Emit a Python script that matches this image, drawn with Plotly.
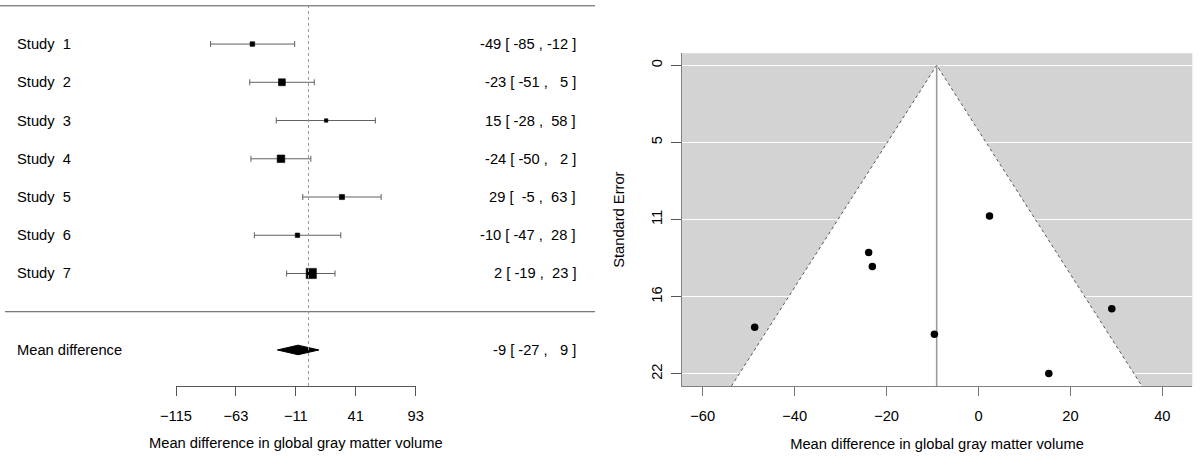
import plotly.graph_objects as go

# ---------------- data ----------------
studies = ["Study  1", "Study  2", "Study  3", "Study  4", "Study  5", "Study  6", "Study  7"]
estimates = [-48.7, -23.1, 15.3, -23.9, 29.0, -9.6, 2.4]
ci_lower = [-85, -51, -28, -50, -5, -47, -19]
ci_upper = [-12, 5, 58, 2, 63, 28, 23]
std_err = [18.6, 14.3, 21.9, 13.3, 17.3, 19.1, 10.7]

pooled_label = "Mean difference"
pooled_est = -9.1
pooled_lower = -27
pooled_upper = 9

forest_ticks = [-115, -63, -11, 41, 93]
funnel_xticks = [-60, -40, -20, 0, 20, 40]
funnel_yticks = [0, 5.48, 10.96, 16.44, 21.92]
funnel_yticktext = ["0", "5", "11", "16", "22"]
x_title = "Mean difference in global gray matter volume"
y_title = "Standard Error"

# ---------------- styling ----------------
FONT = "Liberation Sans, Arial, sans-serif"
FS = 14.7
NB = "\u00a0"
W, H = 1200, 465

n = len(studies)
rows = [n + 2 - i for i in range(n)]     # 9 .. 3
pooled_row = 1
top_row = n + 3

# marker sizes from inverse standard errors (metafor style)
inv = [1 / s for s in std_err]
mn, mx = min(inv), max(inv)
sizes = [3.4 + 6.8 * (w - mn) / (mx - mn) for w in inv]


def fmt(est, lo, hi):
    s = f"{round(est):d} [{lo:4d} ,{hi:4d} ]"
    return s.replace(" ", NB)


fig = go.Figure()

# forest: CIs (error bars) then squares on top
fig.add_trace(go.Scatter(
    x=estimates, y=rows, mode="markers",
    marker=dict(size=0.1, color="rgba(0,0,0,0)"),
    error_x=dict(type="data", symmetric=False,
                 array=[h - e for h, e in zip(ci_upper, estimates)],
                 arrayminus=[e - l for e, l in zip(estimates, ci_lower)],
                 color="#606060", thickness=1, width=3),
    xaxis="x", yaxis="y", showlegend=False, hoverinfo="skip"))
fig.add_trace(go.Scatter(
    x=estimates, y=rows, mode="markers",
    marker=dict(symbol="square", size=sizes, color="#000000", opacity=1,
                line=dict(width=0.6, color="#000000")),
    opacity=1,
    xaxis="x", yaxis="y", showlegend=False, hoverinfo="skip"))

# pooled diamond
dh = 0.125
fig.add_trace(go.Scatter(
    x=[pooled_lower, pooled_est, pooled_upper, pooled_est, pooled_lower],
    y=[pooled_row, pooled_row + dh, pooled_row, pooled_row - dh, pooled_row],
    mode="lines", fill="toself", fillcolor="black",
    line=dict(color="black", width=1),
    xaxis="x", yaxis="y", showlegend=False, hoverinfo="skip"))

# funnel plot
y_bottom = 22.78
y_top = -0.85
fig.add_trace(go.Scatter(
    x=[pooled_est - 1.96 * y_bottom, pooled_est, pooled_est + 1.96 * y_bottom],
    y=[y_bottom, 0, y_bottom], mode="lines", fill="toself", fillcolor="white",
    line=dict(color="#555555", width=1, dash="dot"),
    xaxis="x2", yaxis="y2", showlegend=False, hoverinfo="skip"))
fig.add_trace(go.Scatter(
    x=[pooled_est, pooled_est], y=[0, y_bottom], mode="lines",
    line=dict(color="#9a9a9a", width=1.6),
    xaxis="x2", yaxis="y2", showlegend=False, hoverinfo="skip"))
fig.add_trace(go.Scatter(
    x=estimates, y=std_err, mode="markers",
    marker=dict(symbol="circle", size=7.5, color="black"),
    xaxis="x2", yaxis="y2", showlegend=False, hoverinfo="skip"))

# ---------------- annotations ----------------
ann = []
for lab, r, e, lo, hi in zip(studies, rows, estimates, ci_lower, ci_upper):
    ann.append(dict(x=15 / W, xref="paper", y=r, yref="y", text=lab.replace(" ", NB),
                    xanchor="left", yanchor="middle", showarrow=False))
    ann.append(dict(x=578 / W, xref="paper", y=r, yref="y", text=fmt(e, lo, hi),
                    xanchor="right", yanchor="middle", showarrow=False))
ann.append(dict(x=15 / W, xref="paper", y=pooled_row, yref="y", text=pooled_label,
                xanchor="left", yanchor="middle", showarrow=False))
ann.append(dict(x=578 / W, xref="paper", y=pooled_row, yref="y",
                text=fmt(pooled_est, pooled_lower, pooled_upper),
                xanchor="right", yanchor="middle", showarrow=False))

y_low = 0.0576
shapes = [
    dict(type="line", xref="paper", yref="y", x0=0, x1=595 / W, y0=top_row, y1=top_row,
         line=dict(color="#555555", width=1)),
    dict(type="line", xref="paper", yref="y", x0=5 / W, x1=595 / W, y0=2, y1=2,
         line=dict(color="#555555", width=1)),
    dict(type="line", xref="x", yref="y", x0=0, x1=0, y0=y_low, y1=top_row,
         line=dict(color="#999999", width=1, dash="dot")),
    dict(type="rect", xref="x2 domain", yref="y2 domain", x0=0, x1=1, y0=0, y1=1,
         fillcolor="#d3d3d3", line=dict(width=0), layer="below"),
]

axis_font = dict(family=FONT, size=FS, color="black")

fig.update_layout(
    width=W, height=H,
    margin=dict(l=0, r=0, t=0, b=0, pad=0, autoexpand=False),
    paper_bgcolor="white", plot_bgcolor="white",
    font=axis_font,
    annotations=ann, shapes=shapes,
    xaxis=dict(domain=[176 / W, 415.7 / W], range=[forest_ticks[0], forest_ticks[-1]],
               tickvals=forest_ticks, ticks="outside", ticklen=9, tickcolor="#555555",
               showline=True, linecolor="#555555", linewidth=1,
               showgrid=False, zeroline=False, anchor="y", tickfont=axis_font,
               automargin=False, ticklabelstandoff=7,
               title=dict(text=x_title, font=axis_font, standoff=15)),
    yaxis=dict(domain=[1 - 386 / H, 1], range=[y_low, 10.152], visible=False,
               anchor="x", automargin=False),
    xaxis2=dict(domain=[681.7 / W, 1192.3 / W], range=[-64.58, 46.52],
                tickvals=funnel_xticks, ticks="outside", ticklen=9, tickcolor="#777777",
                showline=True, linecolor="#808080", linewidth=1.3,
                showgrid=False, zeroline=False, anchor="y2", tickfont=axis_font,
                automargin=False, ticklabelstandoff=7,
                title=dict(text=x_title, font=axis_font, standoff=15)),
    yaxis2=dict(domain=[1 - 386 / H, 1 - 53.3 / H], range=[y_bottom, y_top],
                tickvals=funnel_yticks, ticktext=funnel_yticktext, tickangle=-90,
                ticks="outside", ticklen=10, tickcolor="#555555",
                showline=True, linecolor="#808080", linewidth=1.3,
                showgrid=True, gridcolor="white", gridwidth=1,
                zeroline=False, anchor="x2", tickfont=axis_font,
                automargin=False, ticklabelstandoff=3,
                title=dict(text=y_title, font=axis_font, standoff=20)),
)

fig.write_html("out.html", config={"displayModeBar": False},
               post_script="document.body.style.margin='0';document.body.style.overflow='hidden';")
